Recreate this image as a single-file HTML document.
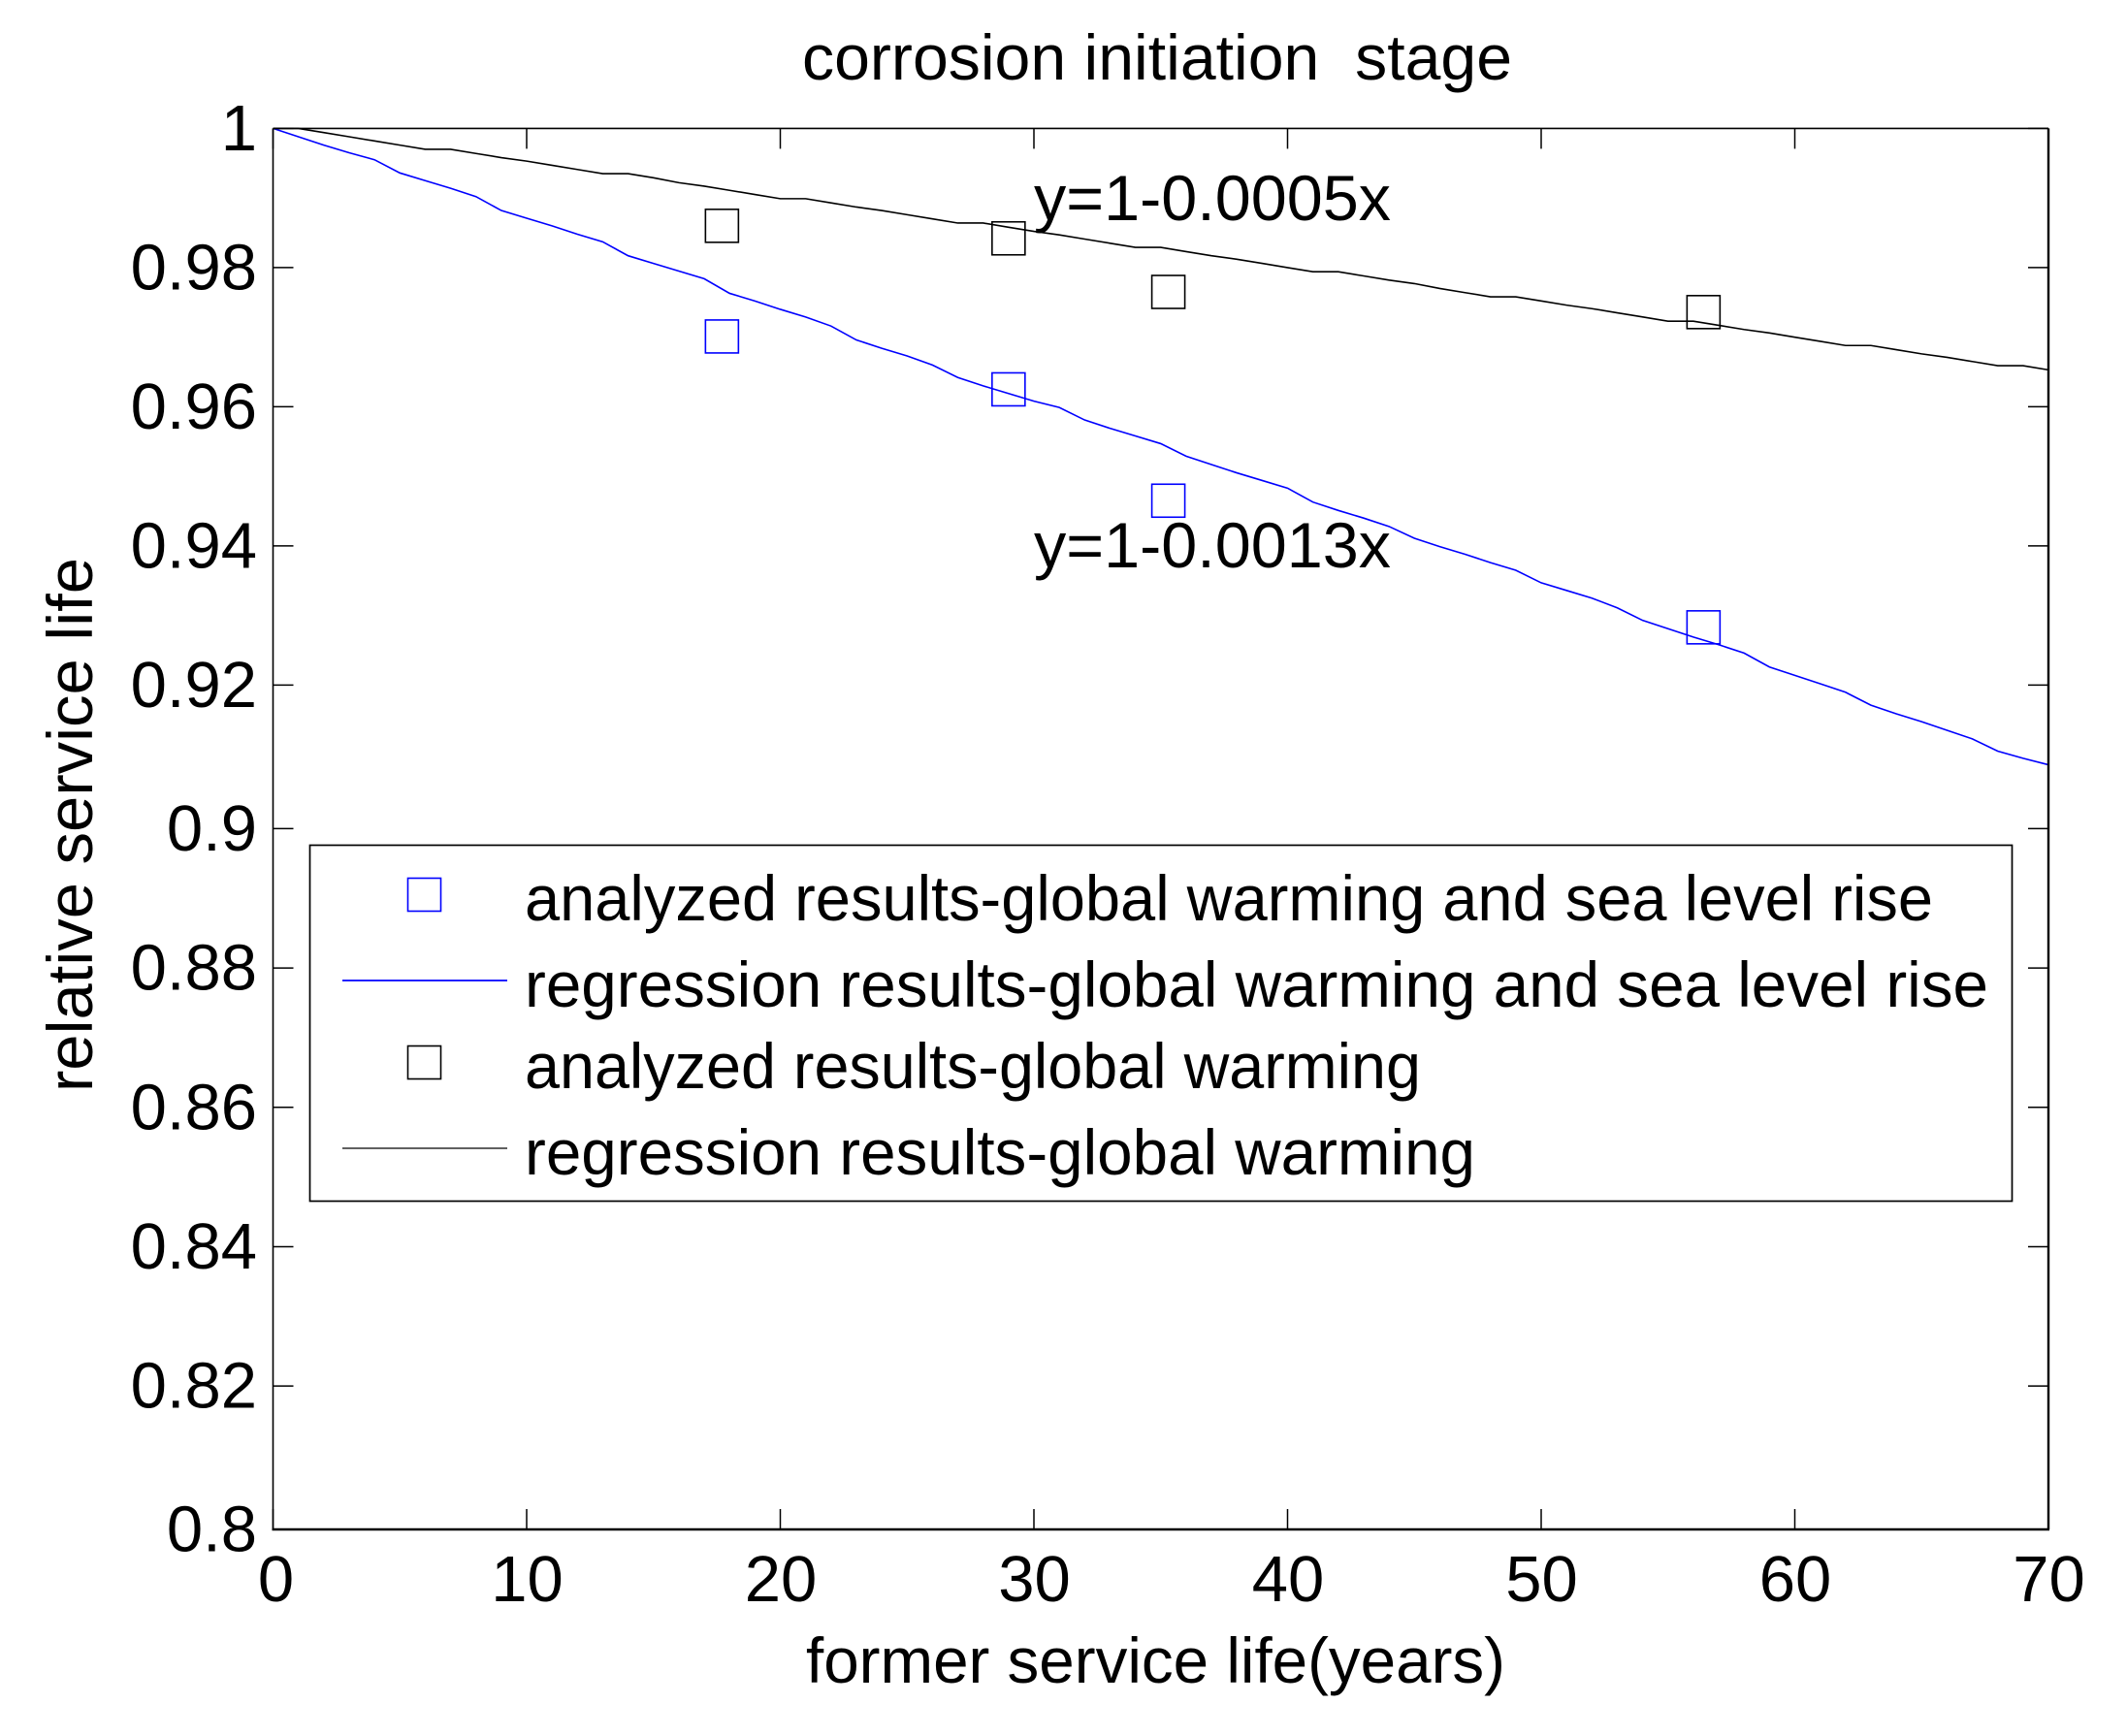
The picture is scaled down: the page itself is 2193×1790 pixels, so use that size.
<!DOCTYPE html>
<html lang="en">
<head>
<meta charset="utf-8">
<title>corrosion initiation stage</title>
<style>
html,body{margin:0;padding:0;background:#fff;width:2193px;height:1790px;overflow:hidden}
svg{display:block}
text{font-family:"Liberation Sans",Arial,sans-serif;fill:#000;white-space:pre}
</style>
</head>
<body>
<svg id="chart" xmlns="http://www.w3.org/2000/svg" width="2193" height="1790" viewBox="0 0 2193 1790">
  <rect x="0" y="0" width="2193" height="1790" fill="#fff"/>
  <text x="827" y="82" font-size="66" textLength="732" lengthAdjust="spacingAndGlyphs">corrosion initiation  stage</text>
  <text x="831" y="1735" font-size="66" textLength="721" lengthAdjust="spacingAndGlyphs">former service life(years)</text>
  <text transform="translate(95,1126) rotate(-90)" font-size="66" textLength="551" lengthAdjust="spacingAndGlyphs">relative service life</text>
  <g id="ticks"></g>
  <g id="series"></g>
  <g id="frame"></g>
  <text x="1066" y="227" font-size="66" textLength="368" lengthAdjust="spacingAndGlyphs">y=1-0.0005x</text>
  <text x="1066" y="585" font-size="66" textLength="368" lengthAdjust="spacingAndGlyphs">y=1-0.0013x</text>
  <g>
    <rect x="319.5" y="871.5" width="1755" height="367" fill="#fff" stroke="#000" stroke-width="1.7"/>
    <rect x="420.5" y="905.5" width="34" height="34" fill="none" stroke="#0000ff" stroke-width="1.6"/>
    <text x="541" y="949" font-size="66" textLength="1452" lengthAdjust="spacingAndGlyphs">analyzed results-global warming and sea level rise</text>
    <line x1="353" y1="1011" x2="523" y2="1011" stroke="#0000ff" stroke-width="1.7"/>
    <text x="541" y="1038" font-size="66" textLength="1509" lengthAdjust="spacingAndGlyphs">regression results-global warming and sea level rise</text>
    <rect x="420.5" y="1078.5" width="34" height="34" fill="none" stroke="#000" stroke-width="1.6"/>
    <text x="541" y="1122" font-size="66" textLength="924" lengthAdjust="spacingAndGlyphs">analyzed results-global warming</text>
    <line x1="353" y1="1184" x2="523" y2="1184" stroke="#000" stroke-width="1.2"/>
    <text x="541" y="1211" font-size="66" textLength="980" lengthAdjust="spacingAndGlyphs">regression results-global warming</text>
  </g>
</svg>
<script>
var xTickValues = [0, 10, 20, 30, 40, 50, 60, 70];
var xTickLabels = ["0", "10", "20", "30", "40", "50", "60", "70"];
var yTickValues = [1, 0.98, 0.96, 0.94, 0.92, 0.9, 0.88, 0.86, 0.84, 0.82, 0.8];
var yTickLabels = ["1", "0.98", "0.96", "0.94", "0.92", "0.9", "0.88", "0.86", "0.84", "0.82", "0.8"];
var analyzedYears = [17.7, 29.0, 35.3, 56.4];
var analyzedWarmingSea = [0.9701, 0.9625, 0.9465, 0.9283];
var analyzedWarming = [0.9860, 0.9842, 0.9765, 0.9736];
var regressionYears = [0,1,2,3,4,5,6,7,8,9,10,11,12,13,14,15,16,17,18,19,20,21,22,23,24,25,26,27,28,29,30,31,32,33,34,35,36,37,38,39,40,41,42,43,44,45,46,47,48,49,50,51,52,53,54,55,56,57,58,59,60,61,62,63,64,65,66,67,68,69,70];
var regressionWarmingSea = [1.0000,0.9988,0.9976,0.9965,0.9955,0.9936,0.9925,0.9914,0.9902,0.9882,0.9871,0.9860,0.9848,0.9837,0.9817,0.9806,0.9795,0.9784,0.9763,0.9752,0.9740,0.9729,0.9716,0.9696,0.9684,0.9673,0.9660,0.9642,0.9630,0.9619,0.9608,0.9599,0.9581,0.9569,0.9558,0.9547,0.9529,0.9517,0.9505,0.9494,0.9483,0.9463,0.9451,0.9440,0.9428,0.9411,0.9399,0.9388,0.9376,0.9365,0.9347,0.9336,0.9325,0.9311,0.9293,0.9281,0.9269,0.9258,0.9246,0.9226,0.9214,0.9202,0.9190,0.9172,0.9160,0.9149,0.9137,0.9125,0.9108,0.9098,0.9089];
var regressionWarming = [1.0000,1.0000,0.9994,0.9988,0.9982,0.9976,0.9970,0.9970,0.9964,0.9958,0.9953,0.9947,0.9941,0.9935,0.9935,0.9929,0.9922,0.9917,0.9911,0.9905,0.9899,0.9899,0.9893,0.9887,0.9882,0.9876,0.9870,0.9864,0.9864,0.9858,0.9852,0.9847,0.9841,0.9835,0.9829,0.9829,0.9823,0.9817,0.9812,0.9806,0.9800,0.9794,0.9794,0.9788,0.9782,0.9777,0.9770,0.9764,0.9758,0.9758,0.9752,0.9746,0.9741,0.9735,0.9729,0.9723,0.9723,0.9717,0.9711,0.9706,0.9700,0.9694,0.9688,0.9688,0.9682,0.9676,0.9671,0.9665,0.9659,0.9659,0.9653];

var NS = "http://www.w3.org/2000/svg";
var LEFT = 281.5, RIGHT = 2112, TOP = 132.4, BOTTOM = 1577;
var TICK = 21, MARKER = 34;

function xScale(v) { return LEFT + v / 70 * (RIGHT - LEFT); }

/* The source figure's y axis is very slightly uneven: the 0.92-0.9 and
   0.82-0.8 intervals are a few pixels taller than the others. */
function yScale(v) {
  if (v >= 0.92) { return TOP + (1 - v) * 7175; }
  if (v >= 0.9) { return 706.4 + (0.92 - v) * 7400; }
  if (v >= 0.82) { return 854.4 + (0.9 - v) * 7184; }
  return 1429 + (0.82 - v) * 7400;
}

function make(tag, attrs, parent) {
  var el = document.createElementNS(NS, tag);
  for (var k in attrs) { el.setAttribute(k, attrs[k]); }
  parent.appendChild(el);
  return el;
}

var ticksGroup = document.getElementById("ticks");
var seriesGroup = document.getElementById("series");
var frameGroup = document.getElementById("frame");

xTickValues.forEach(function (v, i) {
  var x = xScale(v);
  var bottomTick = make("line", {x1: x, y1: BOTTOM, x2: x, y2: BOTTOM - TICK, stroke: "#000", "stroke-width": 1.5}, ticksGroup);
  
  
  var topTick = make("line", {x1: x, y1: TOP, x2: x, y2: TOP + TICK, stroke: "#000", "stroke-width": 1.5}, ticksGroup);
  
  
  var label = make("text", {x: x + (v === 0 ? 3 : 0.5), y: 1651, "font-size": 67, "text-anchor": "middle"}, ticksGroup);
  
  
  label.textContent = xTickLabels[i];
});

yTickValues.forEach(function (v, i) {
  var y = yScale(v);
  var leftTick = make("line", {x1: LEFT, y1: y, x2: LEFT + TICK, y2: y, stroke: "#000", "stroke-width": 1.5}, ticksGroup);
  
  
  var rightTick = make("line", {x1: RIGHT, y1: y, x2: RIGHT - TICK, y2: y, stroke: "#000", "stroke-width": 1.5}, ticksGroup);
  
  
  var label = make("text", {x: 265, y: y + 22.5, "font-size": 67, "text-anchor": "end"}, ticksGroup);
  
  
  label.textContent = yTickLabels[i];
});

function linePoints(xs, ys) {
  return xs.map(function (x, i) { return xScale(x).toFixed(2) + "," + yScale(ys[i]).toFixed(2); }).join(" ");
}

var blueLine = make("polyline", {points: linePoints(regressionYears, regressionWarmingSea), fill: "none", stroke: "#0000ff", "stroke-width": 1.6}, seriesGroup);



var blackLine = make("polyline", {points: linePoints(regressionYears, regressionWarming), fill: "none", stroke: "#000", "stroke-width": 1.6}, seriesGroup);



analyzedYears.forEach(function (yr, i) {
  var blueMarker = make("rect", {x: xScale(yr) - MARKER / 2, y: yScale(analyzedWarmingSea[i]) - MARKER / 2, width: MARKER, height: MARKER, fill: "none", stroke: "#0000ff", "stroke-width": 1.6}, seriesGroup);
  
  
  var blackMarker = make("rect", {x: xScale(yr) - MARKER / 2, y: yScale(analyzedWarming[i]) - MARKER / 2, width: MARKER, height: MARKER, fill: "none", stroke: "#000", "stroke-width": 1.6}, seriesGroup);
  
  
});

var axisTop = make("line", {x1: LEFT, y1: TOP, x2: RIGHT, y2: TOP, stroke: "#000", "stroke-width": 1.6}, frameGroup);


var axisLeft = make("line", {x1: LEFT, y1: TOP, x2: LEFT, y2: BOTTOM, stroke: "#000", "stroke-width": 1.6}, frameGroup);


var axisRight = make("line", {x1: RIGHT, y1: TOP, x2: RIGHT, y2: BOTTOM, stroke: "#000", "stroke-width": 2.4}, frameGroup);


var axisBottom = make("line", {x1: LEFT - 1, y1: BOTTOM, x2: RIGHT + 1, y2: BOTTOM, stroke: "#000", "stroke-width": 2.4}, frameGroup);


</script>
</body>
</html>
